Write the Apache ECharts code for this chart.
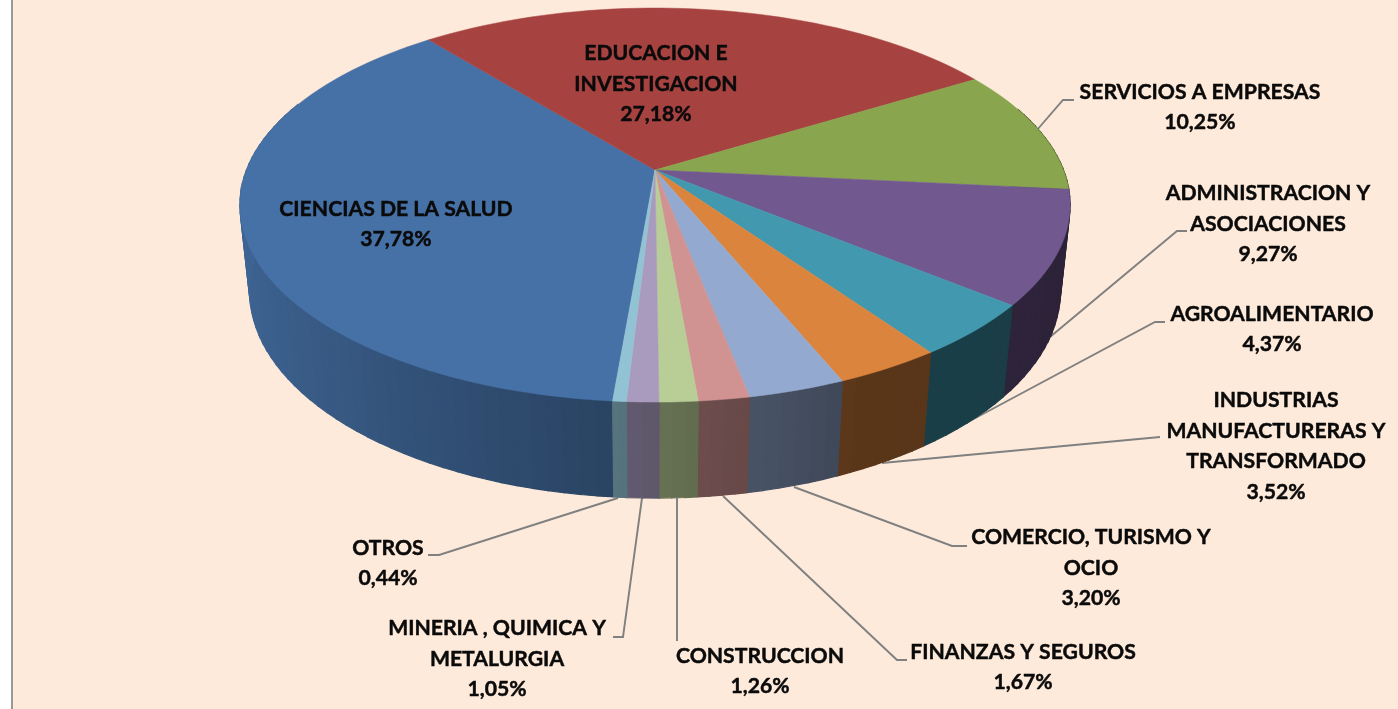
<!DOCTYPE html>
<html><head><meta charset="utf-8">
<style>html,body{margin:0;padding:0;background:#fff}#c{width:1398px;height:709px}</style>
<script src="https://cdn.jsdelivr.net/npm/echarts@6/dist/echarts.min.js"></script>
</head><body><div id="c"></div>
<script>
const categories = ['CIENCIAS DE LA SALUD','EDUCACION E\nINVESTIGACION','SERVICIOS A EMPRESAS','ADMINISTRACION Y\nASOCIACIONES','AGROALIMENTARIO','INDUSTRIAS\nMANUFACTURERAS Y\nTRANSFORMADO','COMERCIO, TURISMO Y\nOCIO','FINANZAS Y SEGUROS','CONSTRUCCION','MINERIA , QUIMICA Y\nMETALURGIA','OTROS'];
const shares = [37.78,27.18,10.25,9.27,4.37,3.52,3.20,1.67,1.26,1.05,0.44];
const colors = ['#4671A6','#A64341','#89A54E','#71588F','#4198AF','#DB843D','#93A9CF','#D19392','#B9CD96','#A99BBD','#91C3D5'];

// layout of labels: centre of the text block
const labelPos = [[396,224],[656,84],[1200,107],[1268,224],[1272,329],[1276,446],[1091,568],[1023,667],[760,671],[497,659],[388,563]];
// leader lines (null when the label sits on the slice)
const leaders = [null,null,
 [[1037,130],[1063,100],[1074,100]],
 [[1050,337],[1177,231],[1187,231]],
 [[968,422],[1155,322],[1165,322]],
 [[882,463],[1160,437]],
 [[794,487],[952,546],[967,546]],
 [[723,496],[897,660],[907,660]],
 [[677,498],[677,641]],
 [[642,498],[623,637],[613,637]],
 [[618,498],[439,555],[428,555]]];

// perspective view of the disc
const CX=655, CY=170, R=408.5, S=190.8, K=0.178, M=0.023, T=86.4, START=4.9;
function project(aDeg,h){
  const a=aDeg*Math.PI/180, u=-Math.sin(a), v=Math.cos(a), w=1-K*v+M*h;
  return [CX+R*u/w, CY+(S*v+T*h)/w];
}
function shade(hex,f){
  const n=parseInt(hex.slice(1),16);
  const c=[n>>16,(n>>8)&255,n&255].map(x=>Math.round(x*f));
  return 'rgb('+c.join(',')+')';
}
const shadeStops=[[-1,.89],[-.5,.72],[-.1,.6],[.1,.52],[.3,.46],[.42,.41],[1,.40]];
function sideFactor(u){
  for(let i=1;i<shadeStops.length;i++){
    const p=shadeStops[i-1],q=shadeStops[i];
    if(u<=q[0]) return p[1]+(q[1]-p[1])*(u-p[0])/(q[0]-p[0]);
  }
  return .4;
}
const total=shares.reduce((a,b)=>a+b,0);
function renderItem(params,api){
  const i=params.dataIndex, val=api.value(0);
  let a0=START; for(let k=0;k<i;k++) a0+=shares[k]/total*360;
  const span=val/total*360, n=Math.max(2,Math.ceil(span/2));
  const children=[];
  const top=[[CX,CY]];
  for(let k=0;k<=n;k++){
    const a=a0+span*k/n; top.push(project(a,0));
    if(k<n){
      const b=a0+span*(k+1)/n, mid=(a+b)/2*Math.PI/180;
      if(Math.cos(mid)>-0.35){
        const fc=shade(colors[i],sideFactor(-Math.sin(mid)));
        children.push({type:'polygon',z2:1,silent:true,
          shape:{points:[project(a,0),project(b,0),project(b,1),project(a,1)]},
          style:{fill:fc,stroke:fc,lineWidth:1.2}});
      }
    }
  }
  children.push({type:'polygon',z2:5,silent:true,shape:{points:top},
    style:{fill:colors[i],stroke:colors[i],lineWidth:.5}});
  if(leaders[i]) children.push({type:'polyline',z2:0,silent:true,shape:{points:leaders[i]},
    style:{fill:'none',stroke:'#808080',lineWidth:1.9}});
  const txt=categories[i]+'\n'+val.toFixed(2).replace('.',',')+'%';
  children.push({type:'text',z2:10,silent:true,x:labelPos[i][0],y:labelPos[i][1],
    style:{text:txt,textAlign:'center',textVerticalAlign:'middle',verticalAlign:'middle',fontFamily:'Lato',
      fontWeight:'bold',fontSize:21.2,lineHeight:30.5,fill:'#0a0a0a',stroke:'#0a0a0a',lineWidth:.45}});
  return {type:'group',children};
}
const chart=echarts.init(document.getElementById('c'),null,{renderer:'canvas'});
chart.setOption({
  animation:false,
  backgroundColor:'#ffffff',
  graphic:[
    {type:'rect',z:-10,silent:true,shape:{x:12,y:0,width:1386,height:709},style:{fill:'#FDEADA'}},
    {type:'rect',z:-9,silent:true,shape:{x:11,y:0,width:2,height:709},style:{fill:'#999999'}}
  ],
  series:[{type:'custom',coordinateSystem:'none',renderItem,clip:false,
    data:shares.map((v,i)=>({name:categories[i],value:[v]}))}]
});
</script></body></html>
